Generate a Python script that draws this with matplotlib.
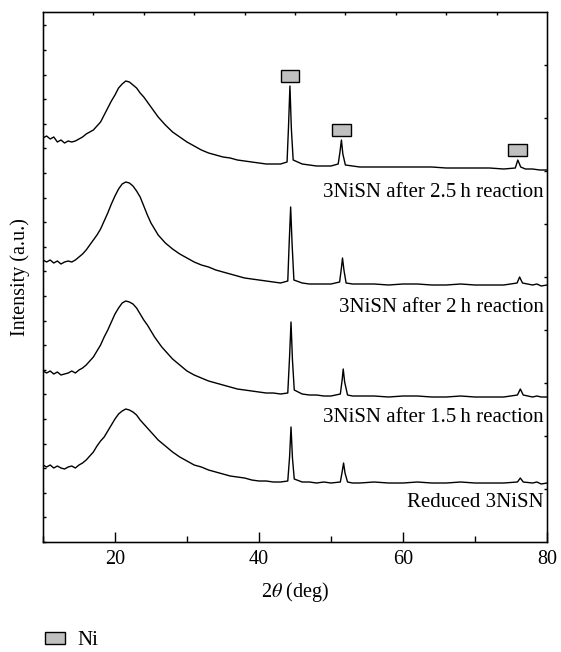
import matplotlib
matplotlib.use("Agg")
import matplotlib.pyplot as plt
from matplotlib.patches import Patch, Rectangle
from matplotlib.ticker import MultipleLocator

plt.rcParams['font.family'] = ['Liberation Serif', 'DejaVu Serif']
plt.rcParams['mathtext.fontset'] = 'stix'

# XRD patterns: (2theta, intensity a.u.)
reduced = [(10, 77), (10.5, 75), (11, 77), (11.5, 74), (12, 76), (12.5, 74), (13, 73), (13.5, 75), (14, 76),
           (14.5, 74), (15, 77), (15.5, 79), (16, 82), (16.5, 86), (17, 90), (17.5, 96), (18, 101), (18.5, 105),
           (19, 111), (19.5, 117), (20, 123), (20.5, 128), (21, 131), (21.5, 133), (22, 132), (22.5, 130),
           (23, 127), (23.5, 122), (24, 118), (24.5, 114), (25, 110), (25.5, 106), (26, 102), (26.5, 99),
           (27, 96), (28, 90), (29, 85), (30, 81), (31, 77), (32, 75), (33, 72), (34, 70), (35, 68), (36, 66),
           (37, 65), (38, 64), (39, 62), (40, 61), (41, 61), (42, 60), (43, 60), (44.0, 61), (44.25, 85),
           (44.45, 115), (44.65, 84), (44.9, 63), (46, 60), (47, 60), (48, 59), (49, 60), (50, 59), (51.3, 60),
           (51.55, 70), (51.75, 79), (51.95, 69), (52.3, 60), (53, 59), (54, 59), (56, 60), (58, 59), (60, 59),
           (62, 60), (64, 59), (66, 59), (68, 60), (70, 59), (72, 59), (74, 59), (75.9, 60), (76.3, 64),
           (76.7, 60), (78, 59), (78.6, 60), (79.2, 58), (80, 59)]

h15 = [(10, 171), (10.5, 169), (11, 171), (11.5, 168), (12, 170), (12.5, 167), (13, 168), (13.5, 169), (14, 171),
       (14.5, 169), (15, 172), (15.5, 174), (16, 177), (16.5, 181), (17, 185), (17.5, 191), (18, 197), (18.5, 205),
       (19, 212), (19.5, 220), (20, 228), (20.5, 234), (21, 239), (21.5, 241), (22, 240), (22.5, 238), (23, 234),
       (23.5, 228), (24, 222), (24.5, 217), (25, 211), (25.5, 205), (26, 200), (26.5, 195), (27, 191), (28, 183),
       (29, 177), (30, 171), (31, 167), (32, 164), (33, 161), (34, 159), (35, 157), (36, 155), (37, 153), (38, 152),
       (39, 151), (40, 150), (41, 149), (42, 149), (43, 148), (44.0, 149), (44.25, 185), (44.45, 220), (44.65, 182),
       (44.9, 152), (46, 148), (47, 147), (48, 147), (49, 146), (50, 146), (51.3, 148), (51.55, 162), (51.7, 173),
       (51.9, 160), (52.3, 147), (53, 146), (54, 146), (56, 146), (58, 145), (60, 146), (62, 146), (64, 145),
       (66, 145), (68, 146), (70, 145), (72, 145), (74, 145), (75.9, 147), (76.3, 153), (76.7, 147), (78, 145),
       (78.6, 146), (79.2, 145), (80, 145)]

h2 = [(10, 282), (10.5, 280), (11, 282), (11.5, 279), (12, 281), (12.5, 278), (13, 280), (13.5, 281), (14, 280),
      (14.5, 282), (15, 285), (15.5, 288), (16, 292), (16.5, 297), (17, 302), (17.5, 307), (18, 313), (18.5, 321),
      (19, 329), (19.5, 338), (20, 346), (20.5, 353), (21, 358), (21.5, 360), (22, 359), (22.5, 356), (23, 351),
      (23.5, 345), (24, 336), (24.5, 327), (25, 319), (25.5, 313), (26, 307), (26.5, 303), (27, 299), (28, 293),
      (29, 288), (30, 284), (31, 280), (32, 277), (33, 275), (34, 272), (35, 270), (36, 268), (37, 266), (38, 264),
      (39, 263), (40, 262), (41, 261), (42, 260), (43, 259), (44.0, 261), (44.2, 300), (44.4, 335), (44.6, 298),
      (44.85, 262), (46, 259), (47, 258), (48, 258), (49, 258), (50, 258), (51.2, 260), (51.45, 274), (51.6, 284),
      (51.8, 272), (52.1, 259), (53, 258), (54, 258), (56, 258), (58, 257), (60, 258), (62, 258), (64, 257),
      (66, 257), (68, 258), (70, 257), (72, 257), (74, 257), (75.85, 259), (76.2, 265), (76.6, 259), (78, 257),
      (78.6, 258), (79.2, 256), (80, 257)]

h25 = [(10, 404), (10.5, 406), (11, 403), (11.5, 405), (12, 400), (12.5, 402), (13, 399), (13.5, 401), (14, 400),
       (14.5, 401), (15, 403), (15.5, 405), (16, 408), (16.5, 410), (17, 412), (17.5, 416), (18, 420), (18.5, 427),
       (19, 434), (19.5, 441), (20, 447), (20.5, 454), (21, 458), (21.5, 461), (22, 460), (22.5, 457), (23, 454),
       (23.5, 449), (24, 445), (24.5, 440), (25, 435), (25.5, 430), (26, 425), (26.5, 421), (27, 417), (28, 410),
       (29, 405), (30, 400), (31, 396), (32, 392), (33, 389), (34, 387), (35, 385), (36, 384), (37, 382), (38, 381),
       (39, 380), (40, 379), (41, 378), (42, 378), (43, 378), (43.9, 380), (44.1, 415), (44.3, 456), (44.5, 413),
       (44.75, 382), (46, 378), (47, 377), (48, 376), (49, 376), (50, 376), (51.0, 378), (51.25, 390), (51.45, 402),
       (51.65, 388), (52.0, 377), (53, 376), (54, 375), (56, 375), (58, 375), (60, 375), (62, 375), (64, 375),
       (66, 374), (68, 374), (70, 374), (72, 374), (74, 373), (75.6, 374), (75.95, 382), (76.35, 375), (77, 373),
       (78, 373), (79, 372), (80, 372)]

curves = [reduced, h15, h2, h25]
labels = ["Reduced 3NiSN",
          "3NiSN after 1.5\u2009h reaction",
          "3NiSN after 2\u2009h reaction",
          "3NiSN after 2.5\u2009h reaction"]
label_y = [40, 125, 235, 350]

# Ni reflections marked on the top pattern
ni_peaks = [44.3, 51.45, 75.95]

fig = plt.figure(figsize=(5.61, 6.52), dpi=100)
ax = fig.add_axes([0.0766, 0.1687, 0.8984, 0.8129])

for data, lab, ly in zip(curves, labels, label_y):
    xs = [p[0] for p in data]
    ys = [p[1] for p in data]
    ax.plot(xs, ys, color='black', lw=1.0)
    ax.text(79.6, ly, lab, ha='right', va='center', fontsize=15)

top = h25
for pk in ni_peaks:
    peak_h = max(y for x, y in top if abs(x - pk) < 0.3)
    ax.add_patch(Rectangle((pk - 1.3, peak_h + 4), 2.6, 12, facecolor='#c0c0c0',
                           edgecolor='black', lw=1.0))

ax.set_xlim(10, 80)
ax.set_ylim(0, 530)
ax.set_xticks([20, 40, 60, 80])
ax.xaxis.set_minor_locator(MultipleLocator(10))
ax.yaxis.set_major_locator(MultipleLocator(24.6))
ax.set_yticklabels([])
ax.tick_params(axis='x', which='major', direction='in', length=7, width=1, labelsize=14.5, pad=6)
ax.tick_params(axis='x', which='minor', direction='in', length=4, width=1)
ax.tick_params(axis='y', direction='in', length=2.5, width=1)
for s in ax.spines.values():
    s.set_linewidth(1.0)

ax.set_xlabel(r"2$\theta$ (deg)", fontsize=14.5, labelpad=8)
ax.set_ylabel("Intensity (a.u.)", fontsize=14.5, labelpad=6)

# frame ticks on the top and right edges
axt = ax.twiny()
axt.set_xlim(0, 10)
axt.set_xticks(range(1, 10))
axt.set_xticklabels([])
axt.tick_params(axis='x', direction='in', length=2.5, width=1)
axr = ax.twinx()
axr.set_ylim(0, 10)
axr.set_yticks(range(1, 10))
axr.set_yticklabels([])
axr.tick_params(axis='y', direction='in', length=2.5, width=1)

fig.legend(handles=[Patch(facecolor='#c0c0c0', edgecolor='black', lw=1.0)], labels=['Ni'],
           loc='lower left', bbox_to_anchor=(0.047, -0.026), frameon=False, fontsize=15,
           handlelength=0.95, handleheight=0.55, handletextpad=0.6)

fig.savefig("out.png", dpi=100)
